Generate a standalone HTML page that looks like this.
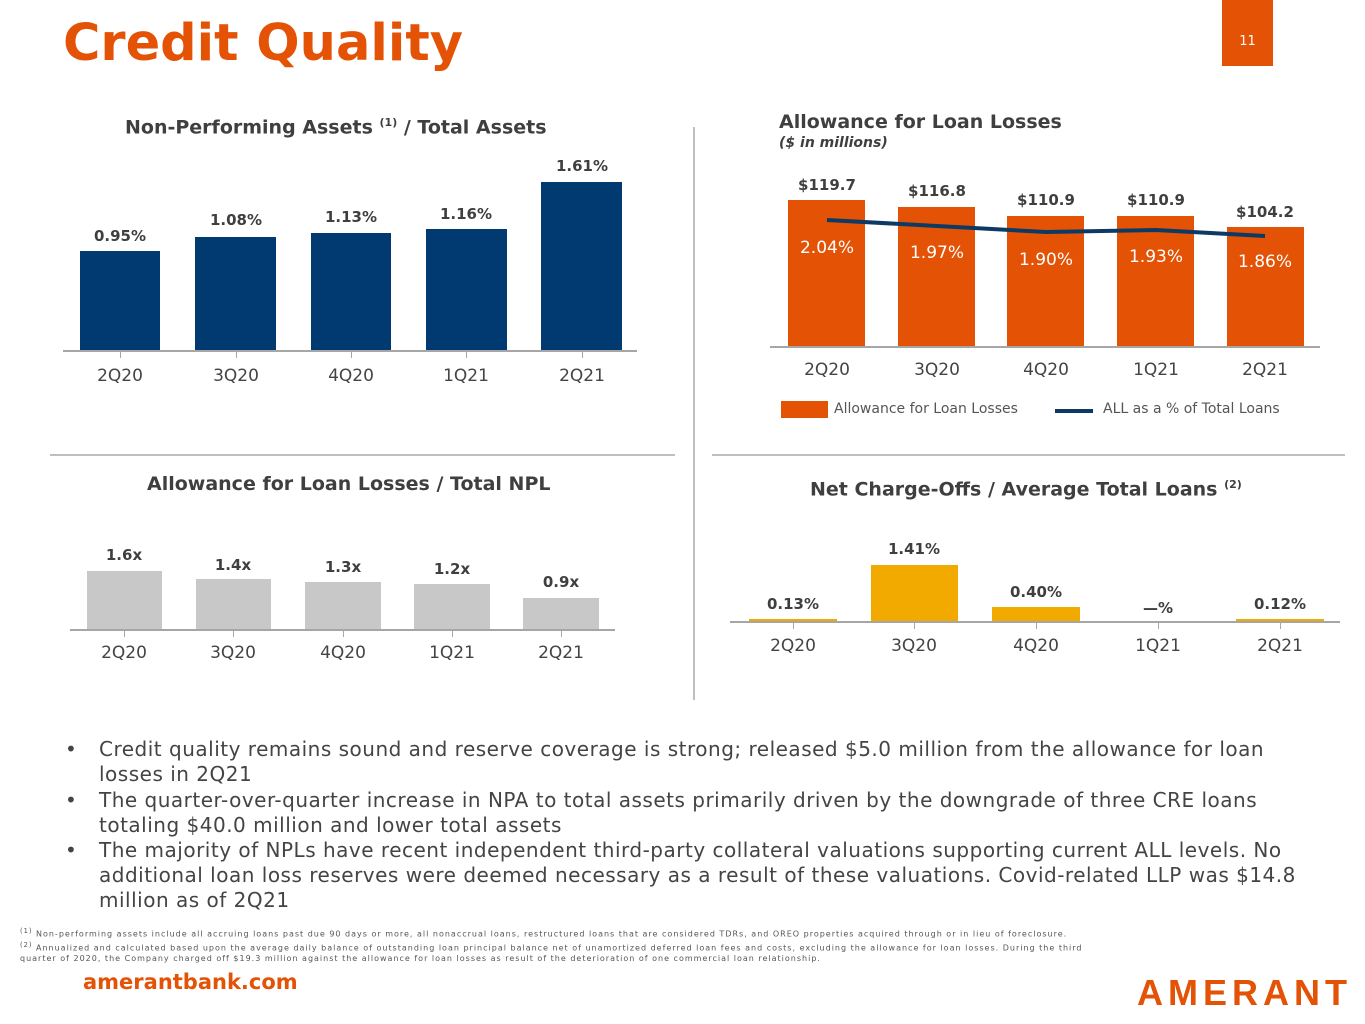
<!DOCTYPE html><html><head><meta charset="utf-8"><style>
body{margin:0;width:1365px;height:1024px;position:relative;background:#fff;font-family:"DejaVu Sans","Liberation Sans",sans-serif;overflow:hidden}
div{position:absolute}
.t{white-space:nowrap}
.h{font-weight:bold;color:#3f3f3f;font-size:19px}
.v{font-weight:bold;color:#3f3f3f;font-size:15px;transform:translateX(-50%);text-align:center}
.k{color:#444;font-size:17px;transform:translateX(-50%)}
.w{color:#fff;font-size:17px;transform:translateX(-50%)}
.ax{height:2px;background:#a6a6a6}
.tk{width:1px;height:7px;background:#a6a6a6}
.b{font-size:20px;color:#444;line-height:25px;white-space:nowrap;letter-spacing:0.5px}
</style></head><body>
<div class="t" style="left:63px;top:14px;font-size:51px;font-weight:bold;color:#e35205">Credit Quality</div>
<div style="left:1222px;top:0;width:51px;height:66px;background:#e35205;color:#fff;font-size:13px;text-align:center;line-height:84px">11</div>

<div style="left:693px;top:127px;width:2px;height:573px;background:#bfbfbf"></div>
<div style="left:50px;top:454px;width:625px;height:2px;background:#bfbfbf"></div>
<div style="left:712px;top:454px;width:633px;height:2px;background:#bfbfbf"></div>

<!-- Chart 1 -->
<div class="t h" style="left:125px;top:116px">Non-Performing Assets <sup style="font-size:11px">(1)</sup> / Total Assets</div>
<div style="left:80px;top:251px;width:80px;height:100px;background:#003a70"></div>
<div style="left:195px;top:237px;width:81px;height:114px;background:#003a70"></div>
<div style="left:311px;top:233px;width:80px;height:118px;background:#003a70"></div>
<div style="left:426px;top:229px;width:81px;height:122px;background:#003a70"></div>
<div style="left:541px;top:182px;width:81px;height:169px;background:#003a70"></div>
<div class="ax" style="left:63px;top:350px;width:574px"></div>
<div class="tk" style="left:120px;top:351px"></div><div class="tk" style="left:236px;top:351px"></div><div class="tk" style="left:351px;top:351px"></div><div class="tk" style="left:466px;top:351px"></div><div class="tk" style="left:582px;top:351px"></div>
<div class="t v" style="left:120px;top:227px">0.95%</div>
<div class="t v" style="left:236px;top:211px">1.08%</div>
<div class="t v" style="left:351px;top:208px">1.13%</div>
<div class="t v" style="left:466px;top:205px">1.16%</div>
<div class="t v" style="left:582px;top:157px">1.61%</div>
<div class="t k" style="left:120px;top:366px">2Q20</div><div class="t k" style="left:236px;top:366px">3Q20</div><div class="t k" style="left:351px;top:366px">4Q20</div><div class="t k" style="left:466px;top:366px">1Q21</div><div class="t k" style="left:582px;top:366px">2Q21</div>

<!-- Chart 2 -->
<div class="t h" style="left:779px;top:111px">Allowance for Loan Losses</div>
<div class="t" style="left:779px;top:135px;font-size:14px;font-weight:bold;font-style:italic;color:#3f3f3f">($ in millions)</div>
<div style="left:788px;top:200px;width:77px;height:147px;background:#e35205"></div>
<div style="left:898px;top:207px;width:77px;height:140px;background:#e35205"></div>
<div style="left:1007px;top:216px;width:77px;height:131px;background:#e35205"></div>
<div style="left:1117px;top:216px;width:77px;height:131px;background:#e35205"></div>
<div style="left:1227px;top:227px;width:77px;height:120px;background:#e35205"></div>
<div class="ax" style="left:770px;top:346px;width:550px"></div>
<svg style="position:absolute;left:0;top:0" width="1365" height="1024"><polyline points="827,220 937,226 1046,232 1156,230 1265,236" fill="none" stroke="#0c3a64" stroke-width="4"/><line x1="1055" y1="411" x2="1093" y2="411" stroke="#0c3a64" stroke-width="4"/></svg>
<div class="t v" style="left:827px;top:176px">$119.7</div>
<div class="t v" style="left:937px;top:182px">$116.8</div>
<div class="t v" style="left:1046px;top:191px">$110.9</div>
<div class="t v" style="left:1156px;top:191px">$110.9</div>
<div class="t v" style="left:1265px;top:203px">$104.2</div>
<div class="t w" style="left:827px;top:238px">2.04%</div>
<div class="t w" style="left:937px;top:243px">1.97%</div>
<div class="t w" style="left:1046px;top:250px">1.90%</div>
<div class="t w" style="left:1156px;top:247px">1.93%</div>
<div class="t w" style="left:1265px;top:252px">1.86%</div>
<div class="t k" style="left:827px;top:360px">2Q20</div><div class="t k" style="left:937px;top:360px">3Q20</div><div class="t k" style="left:1046px;top:360px">4Q20</div><div class="t k" style="left:1156px;top:360px">1Q21</div><div class="t k" style="left:1265px;top:360px">2Q21</div>
<div style="left:781px;top:401px;width:47px;height:17px;background:#e35205"></div>
<div class="t" style="left:834px;top:401px;font-size:14px;color:#555">Allowance for Loan Losses</div>
<div class="t" style="left:1103px;top:401px;font-size:14px;color:#555">ALL as a % of Total Loans</div>

<!-- Chart 3 -->
<div class="t h" style="left:147px;top:473px">Allowance for Loan Losses / Total NPL</div>
<div style="left:87px;top:571px;width:75px;height:59px;background:#c8c8c8"></div>
<div style="left:196px;top:579px;width:75px;height:51px;background:#c8c8c8"></div>
<div style="left:305px;top:582px;width:76px;height:48px;background:#c8c8c8"></div>
<div style="left:414px;top:584px;width:76px;height:46px;background:#c8c8c8"></div>
<div style="left:523px;top:598px;width:76px;height:32px;background:#c8c8c8"></div>
<div class="ax" style="left:70px;top:629px;width:545px"></div>
<div class="tk" style="left:124px;top:630px"></div><div class="tk" style="left:233px;top:630px"></div><div class="tk" style="left:343px;top:630px"></div><div class="tk" style="left:452px;top:630px"></div><div class="tk" style="left:561px;top:630px"></div>
<div class="t v" style="left:124px;top:546px">1.6x</div>
<div class="t v" style="left:233px;top:556px">1.4x</div>
<div class="t v" style="left:343px;top:558px">1.3x</div>
<div class="t v" style="left:452px;top:560px">1.2x</div>
<div class="t v" style="left:561px;top:573px">0.9x</div>
<div class="t k" style="left:124px;top:643px">2Q20</div><div class="t k" style="left:233px;top:643px">3Q20</div><div class="t k" style="left:343px;top:643px">4Q20</div><div class="t k" style="left:452px;top:643px">1Q21</div><div class="t k" style="left:561px;top:643px">2Q21</div>

<!-- Chart 4 -->
<div class="t h" style="left:810px;top:478px">Net Charge-Offs / Average Total Loans <sup style="font-size:11px">(2)</sup></div>
<div style="left:749px;top:619px;width:88px;height:3px;background:#f2a900"></div>
<div style="left:871px;top:565px;width:87px;height:57px;background:#f2a900"></div>
<div style="left:992px;top:607px;width:88px;height:15px;background:#f2a900"></div>
<div style="left:1236px;top:619px;width:88px;height:3px;background:#f2a900"></div>
<div class="ax" style="left:730px;top:621px;width:610px"></div>
<div class="tk" style="left:793px;top:622px"></div><div class="tk" style="left:914px;top:622px"></div><div class="tk" style="left:1036px;top:622px"></div><div class="tk" style="left:1158px;top:622px"></div><div class="tk" style="left:1280px;top:622px"></div>
<div class="t v" style="left:793px;top:595px">0.13%</div>
<div class="t v" style="left:914px;top:540px">1.41%</div>
<div class="t v" style="left:1036px;top:583px">0.40%</div>
<div class="t v" style="left:1158px;top:599px">—%</div>
<div class="t v" style="left:1280px;top:595px">0.12%</div>
<div class="t k" style="left:793px;top:636px">2Q20</div><div class="t k" style="left:914px;top:636px">3Q20</div><div class="t k" style="left:1036px;top:636px">4Q20</div><div class="t k" style="left:1158px;top:636px">1Q21</div><div class="t k" style="left:1280px;top:636px">2Q21</div>

<!-- bullets -->
<div class="b" style="left:65px;top:737px">•</div>
<div class="b" style="left:99px;top:737px">Credit quality remains sound and reserve coverage is strong; released $5.0 million from the allowance for loan<br>losses in 2Q21</div>
<div class="b" style="left:65px;top:788px">•</div>
<div class="b" style="left:99px;top:788px">The quarter-over-quarter increase in NPA to total assets primarily driven by the downgrade of three CRE loans<br>totaling $40.0 million and lower total assets</div>
<div class="b" style="left:65px;top:838px">•</div>
<div class="b" style="left:99px;top:838px">The majority of NPLs have recent independent third-party collateral valuations supporting current ALL levels. No<br>additional loan loss reserves were deemed necessary as a result of these valuations. Covid-related LLP was $14.8<br>million as of 2Q21</div>

<div style="left:20px;top:926px;font-size:8px;color:#555;line-height:11px;white-space:nowrap;letter-spacing:1px"><sup>(1)</sup> Non-performing assets include all accruing loans past due 90 days or more, all nonaccrual loans, restructured loans that are considered TDRs, and OREO properties acquired through or in lieu of foreclosure.<br><sup>(2)</sup> Annualized and calculated based upon the average daily balance of outstanding loan principal balance net of unamortized deferred loan fees and costs, excluding the allowance for loan losses. During the third<br>quarter of 2020, the Company charged off $19.3 million against the allowance for loan losses as result of the deterioration of one commercial loan relationship.</div>
<div class="t" style="left:83px;top:970px;font-size:21px;font-weight:bold;color:#e35205">amerantbank.com</div>
<div class="t" style="left:1137px;top:972px;font-size:36px;color:#e35205;letter-spacing:5px;font-family:'Liberation Sans',sans-serif;font-weight:bold">AMERANT</div>
</body></html>
